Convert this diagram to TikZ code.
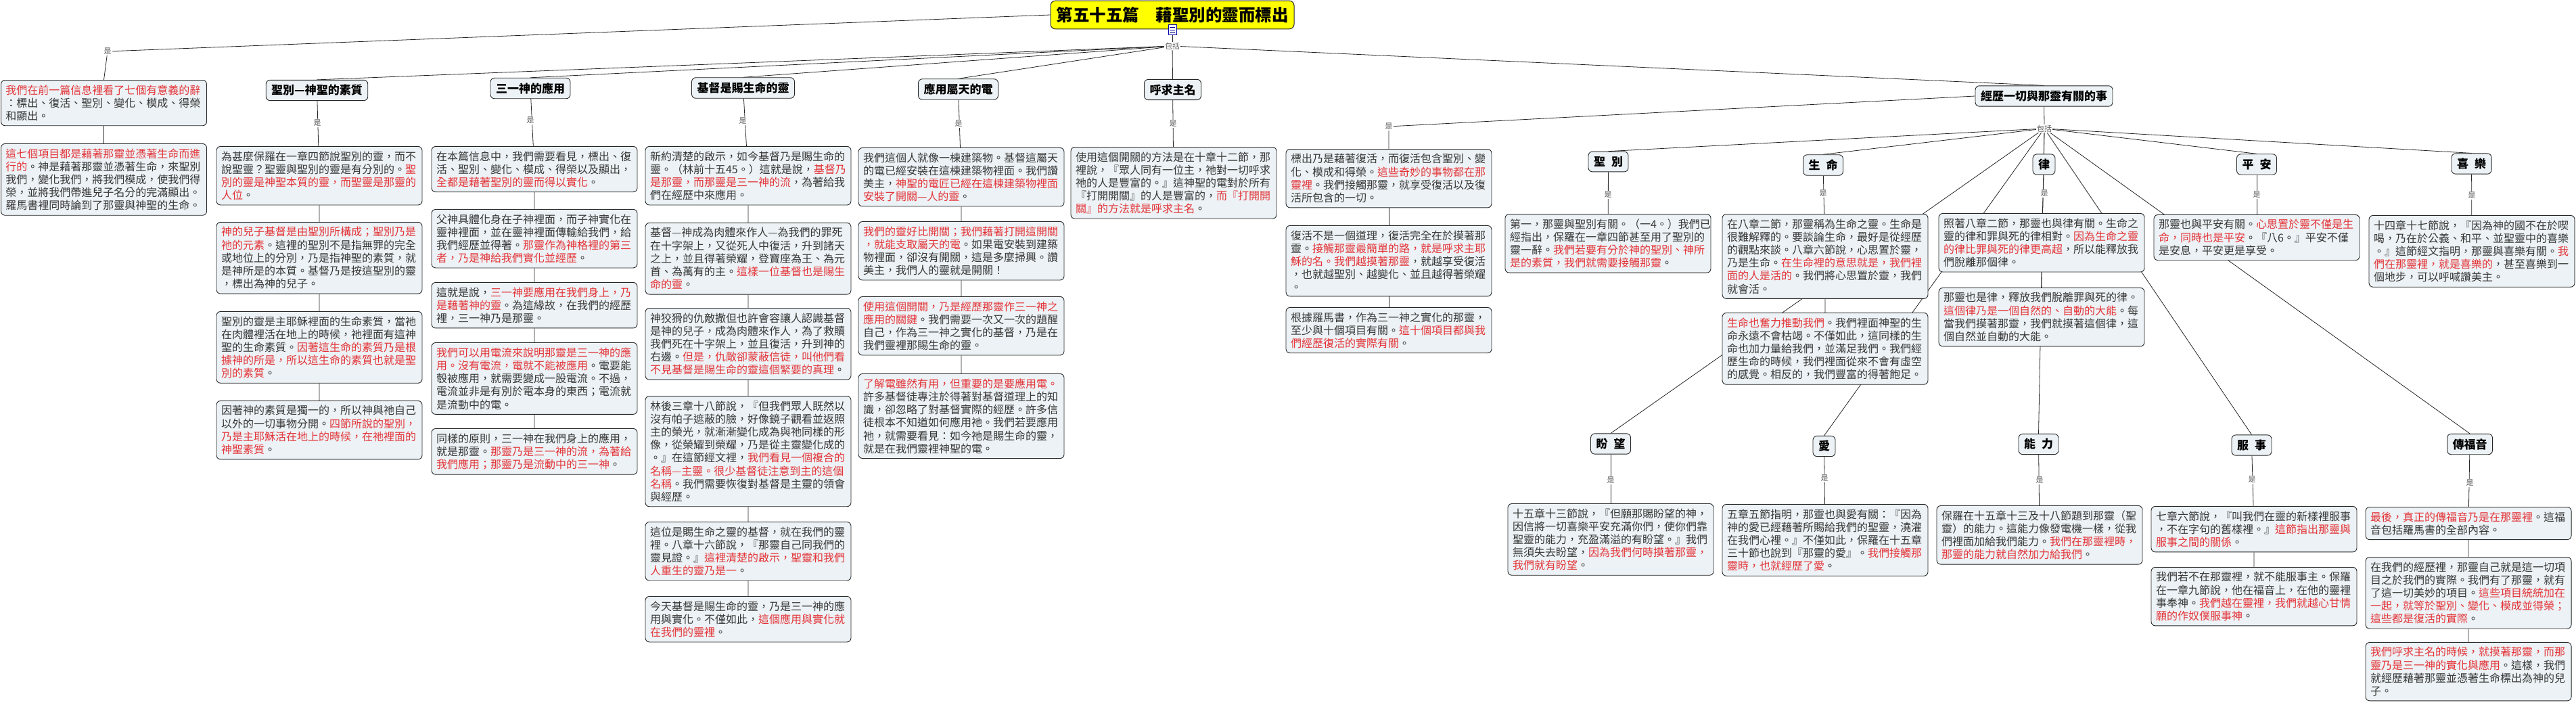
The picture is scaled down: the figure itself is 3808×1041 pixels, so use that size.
\documentclass[tikz,border=0pt]{standalone}
\usepackage{fontspec}
\setmainfont{Noto Sans CJK TC}
\usetikzlibrary{backgrounds}
\definecolor{boxfill}{RGB}{236,242,245}
\definecolor{tgray}{RGB}{55,55,55}
\definecolor{tred}{RGB}{228,52,56}
\definecolor{ttlfill}{RGB}{255,255,0}
\newcommand\rd[1]{\textcolor{tred}{#1}}
\begin{document}
\begin{tikzpicture}[x=1pt,y=-1pt,
  txt/.style={draw=black!85, line width=0.9pt, rounded corners=6pt, fill=boxfill,
    text width=290pt, inner xsep=7pt, inner ysep=7pt, align=left, anchor=north,
    font=\fontsize{16}{19.2}\selectfont, text=tgray},
  hd/.style={draw=black!85, line width=0.9pt, rounded corners=6pt, fill=boxfill,
    inner xsep=8pt, inner ysep=7pt, font=\fontsize{17}{20}\selectfont\bfseries, text=black},
  ttl/.style={draw=black!85, line width=1pt, rounded corners=7pt, fill=ttlfill,
    inner xsep=8.5pt, inner ysep=9pt, font=\fontsize{24.5}{28}\selectfont\bfseries, text=black},
  lbl/.style={fill=white, inner sep=1pt, font=\fontsize{11}{12}\selectfont, text=black!65},
  con/.style={line width=0.8pt, draw=black!85}]
\useasboundingbox (0,0) rectangle (3808,1041);

% ---------- title ----------
\node[ttl] (title) at (1733,22) {第五十五篇　藉聖別的靈而標出};
\node[draw=blue!65!black, fill=white, line width=0.8pt, minimum width=12pt, minimum height=15pt, inner sep=0pt] (icon) at (1733,44) {};
\draw[blue!55!black, line width=0.6pt] (1729,40) -- (1737,40) (1729,44) -- (1737,44) (1729,48) -- (1737,48);
\node[lbl] (incT) at (1733,68) {包括};

% ---------- headers ----------
\node[hd] (hB) at (468.5,133.5) {聖別—神聖的素質};
\node[hd] (hC) at (784,130.5) {三一神的應用};
\node[hd] (hD) at (1098.5,130) {基督是賜生命的靈};
\node[hd] (hE) at (1416.5,132) {應用屬天的電};
\node[hd] (hF) at (1733.5,132.5) {呼求主名};
\node[hd] (hX) at (3021.5,142) {經歷一切與那靈有關的事};
\node[lbl] (incX) at (3022,190) {包括};
\node[hd] (hS) at (2377.5,239) {聖\hspace{9pt}別};
\node[hd] (hL) at (2695,244) {生\hspace{9pt}命};
\node[hd] (hW) at (3021.5,243) {律};
\node[hd] (hP) at (3336,243) {平\hspace{9pt}安};
\node[hd] (hJ) at (3653.5,242) {喜\hspace{9pt}樂};
\node[hd] (hH) at (2381,656) {盼\hspace{9pt}望};
\node[hd] (hA) at (2696.5,659.5) {愛};
\node[hd] (hN) at (3013.5,656.5) {能\hspace{9pt}力};
\node[hd] (hV) at (3328.5,658) {服\hspace{9pt}事};
\node[hd] (hQ) at (3651,656.5) {傳福音};

% ---------- column A ----------
\node[txt] (A1) at (153.5,118) {\rd{我們在前一篇信息裡看了七個有意義的辭}\\：標出、復活、聖別、變化、模成、得榮\\和顯出。};
\node[txt] (A2) at (153.5,212) {\rd{這七個項目都是藉著那靈並憑著生命而進}\\\rd{行的}。神是藉著那靈並憑著生命，來聖別\\我們，變化我們，將我們模成，使我們得\\榮，並將我們帶進兒子名分的完滿顯出。\\羅馬書裡同時論到了那靈與神聖的生命。};

% ---------- column B ----------
\node[txt] (B1) at (472,216) {為甚麼保羅在一章四節說聖別的靈，而不\\說聖靈？聖靈與聖別的靈是有分別的。\rd{聖}\\\rd{別的靈是神聖本質的靈，而聖靈是那靈的}\\\rd{人位}。};
\node[txt] (B2) at (472,328) {\rd{神的兒子基督是由聖別所構成；聖別乃是}\\\rd{祂的元素}。這裡的聖別不是指無罪的完全\\或地位上的分別，乃是指神聖的素質，就\\是神所是的本質。基督乃是按這聖別的靈\\，標出為神的兒子。};
\node[txt] (B3) at (472,460) {聖別的靈是主耶穌裡面的生命素質，當祂\\在肉體裡活在地上的時候，祂裡面有這神\\聖的生命素質。\rd{因著這生命的素質乃是根}\\\rd{據神的所是，所以這生命的素質也就是聖}\\\rd{別的素質}。};
\node[txt] (B4) at (472,592) {因著神的素質是獨一的，所以神與祂自己\\以外的一切事物分開。\rd{四節所說的聖別，}\\\rd{乃是主耶穌活在地上的時候，在祂裡面的}\\\rd{神聖素質}。};

% ---------- column C ----------
\node[txt] (C1) at (790,216) {在本篇信息中，我們需要看見，標出、復\\活、聖別、變化、模成、得榮以及顯出，\\\rd{全都是藉著聖別的靈而得以實化}。};
\node[txt] (C2) at (790,309) {父神具體化身在子神裡面，而子神實化在\\靈神裡面，並在靈神裡面傳輸給我們，給\\我們經歷並得著。\rd{那靈作為神格裡的第三}\\\rd{者，乃是神給我們實化並經歷}。};
\node[txt] (C3) at (790,417) {這就是說，\rd{三一神要應用在我們身上，乃}\\\rd{是藉著神的靈}。為這緣故，在我們的經歷\\裡，三一神乃是那靈。};
\node[txt] (C4) at (790,506) {\rd{我們可以用電流來說明那靈是三一神的應}\\\rd{用。沒有電流，電就不能被應用}。電要能\\彀被應用，就需要變成一股電流。不過，\\電流並非是有別於電本身的東西；電流就\\是流動中的電。};
\node[txt] (C5) at (790,633) {同樣的原則，三一神在我們身上的應用，\\就是那靈。\rd{那靈乃是三一神的流，為著給}\\\rd{我們應用；那靈乃是流動中的三一神}。};

% ---------- column D ----------
\node[txt] (D1) at (1106,216) {新約清楚的啟示，如今基督乃是賜生命的\\靈。（林前十五45。）這就是說，\rd{基督乃}\\\rd{是那靈，而那靈是三一神的流}，為著給我\\們在經歷中來應用。};
\node[txt] (D2) at (1106,329) {基督—神成為肉體來作人—為我們的罪死\\在十字架上，又從死人中復活，升到諸天\\之上，並且得著榮耀，登寶座為王、為元\\首、為萬有的主。\rd{這樣一位基督也是賜生}\\\rd{命的靈}。};
\node[txt] (D3) at (1106,455) {神狡猾的仇敵撒但也許會容讓人認識基督\\是神的兒子，成為肉體來作人，為了救贖\\我們死在十字架上，並且復活，升到神的\\右邊。\rd{但是，仇敵卻蒙蔽信徒，叫他們看}\\\rd{不見基督是賜生命的靈這個緊要的真理}。};
\node[txt] (D4) at (1106,585) {林後三章十八節說，『但我們眾人既然以\\沒有帕子遮蔽的臉，好像鏡子觀看並返照\\主的榮光，就漸漸變化成為與祂同樣的形\\像，從榮耀到榮耀，乃是從主靈變化成的\\。』在這節經文裡，\rd{我們看見一個複合的}\\\rd{名稱—主靈。很少基督徒注意到主的這個}\\\rd{名稱}。我們需要恢復對基督是主靈的領會\\與經歷。};
\node[txt] (D5) at (1106,771) {這位是賜生命之靈的基督，就在我們的靈\\裡。八章十六節說，『那靈自己同我們的\\靈見證。』\rd{這裡清楚的啟示，聖靈和我們}\\\rd{人重生的靈乃是一}。};
\node[txt] (D6) at (1106,881) {今天基督是賜生命的靈，乃是三一神的應\\用與實化。不僅如此，\rd{這個應用與實化就}\\\rd{在我們的靈裡}。};

% ---------- column E ----------
\node[txt] (E1) at (1421,218) {我們這個人就像一棟建築物。基督這屬天\\的電已經安裝在這棟建築物裡面。我們讚\\美主，\rd{神聖的電匠已經在這棟建築物裡面}\\\rd{安裝了開關—人的靈}。};
\node[txt] (E2) at (1421,327) {\rd{我們的靈好比開關；我們藉著打開這開關}\\\rd{，就能支取屬天的電}。如果電安裝到建築\\物裡面，卻沒有開關，這是多麼掃興。讚\\美主，我們人的靈就是開關！};
\node[txt] (E3) at (1421,438) {\rd{使用這個開關，乃是經歷那靈作三一神之}\\\rd{應用的關鍵}。我們需要一次又一次的題醒\\自己，作為三一神之實化的基督，乃是在\\我們靈裡那賜生命的靈。};
\node[txt] (E4) at (1421,552) {\rd{了解電雖然有用，但重要的是要應用電。}\\許多基督徒專注於得著對基督道理上的知\\識，卻忽略了對基督實際的經歷。許多信\\徒根本不知道如何應用祂。我們若要應用\\祂，就需要看見：如今祂是賜生命的靈，\\就是在我們靈裡神聖的電。};

% ---------- column F ----------
\node[txt] (F1) at (1735,217) {使用這個開關的方法是在十章十二節，那\\裡說，『眾人同有一位主，祂對一切呼求\\祂的人是豐富的。』這神聖的電對於所有\\『打開開關』的人是豐富的，\rd{而『打開開}\\\rd{關』的方法就是呼求主名}。};

% ---------- column G ----------
\node[txt] (G1) at (2053,220) {標出乃是藉著復活，而復活包含聖別、變\\化、模成和得榮。\rd{這些奇妙的事物都在那}\\\rd{靈裡}。我們接觸那靈，就享受復活以及復\\活所包含的一切。};
\node[txt] (G2) at (2053,333) {復活不是一個道理，復活完全在於摸著那\\靈。\rd{接觸那靈最簡單的路，就是呼求主耶}\\\rd{穌的名。我們越摸著那靈}，就越享受復活\\，也就越聖別、越變化、並且越得著榮耀\\。};
\node[txt] (G3) at (2053,454) {根據羅馬書，作為三一神之實化的那靈，\\至少與十個項目有關。\rd{這十個項目都與我}\\\rd{們經歷復活的實際有關}。};

% ---------- ten items ----------
\node[txt] (S1) at (2377,316) {第一，那靈與聖別有關。（一4。）我們已\\經指出，保羅在一章四節甚至用了聖別的\\靈一辭。\rd{我們若要有分於神的聖別、神所}\\\rd{是的素質，我們就需要接觸那靈}。};
\node[txt] (L1) at (2698,316) {在八章二節，那靈稱為生命之靈。生命是\\很難解釋的。要談論生命，最好是從經歷\\的觀點來談。八章六節說，心思置於靈，\\乃是生命。\rd{在生命裡的意思就是，我們裡}\\\rd{面的人是活的}。我們將心思置於靈，我們\\就會活。};
\node[txt] (L2) at (2698,462) {\rd{生命也奮力推動我們}。我們裡面神聖的生\\命永遠不會枯竭。不僅如此，這同樣的生\\命也加力量給我們，並滿足我們。我們經\\歷生命的時候，我們裡面從來不會有虛空\\的感覺。相反的，我們豐富的得著飽足。};
\node[txt] (W1) at (3018,315) {照著八章二節，那靈也與律有關。生命之\\靈的律和罪與死的律相對。\rd{因為生命之靈}\\\rd{的律比罪與死的律更高超}，所以能釋放我\\們脫離那個律。};
\node[txt] (W2) at (3018,425) {那靈也是律，釋放我們脫離罪與死的律。\\\rd{這個律乃是一個自然的、自動的大能}。每\\當我們摸著那靈，我們就摸著這個律，這\\個自然並自動的大能。};
\node[txt] (P1) at (3336,317) {那靈也與平安有關。\rd{心思置於靈不僅是生}\\\rd{命，同時也是平安}。『八6。』平安不僅\\是安息，平安更是享受。};
\node[txt] (J1) at (3654,318) {十四章十七節說，『因為神的國不在於喫\\喝，乃在於公義、和平、並聖靈中的喜樂\\。』這節經文指明，那靈與喜樂有關。\rd{我}\\\rd{們在那靈裡，就是喜樂的}，甚至喜樂到一\\個地步，可以呼喊讚美主。};
\node[txt] (H1) at (2381,744) {十五章十三節說，『但願那賜盼望的神，\\因信將一切喜樂平安充滿你們，使你們靠\\聖靈的能力，充盈滿溢的有盼望。』我們\\無須失去盼望，\rd{因為我們何時摸著那靈，}\\\rd{我們就有盼望}。};
\node[txt] (Ai1) at (2698,745) {五章五節指明，那靈也與愛有關：『因為\\神的愛已經藉著所賜給我們的聖靈，澆灌\\在我們心裡。』不僅如此，保羅在十五章\\三十節也說到『那靈的愛』。\rd{我們接觸那}\\\rd{靈時，也就經歷了愛}。};
\node[txt] (N1) at (3015,747) {保羅在十五章十三及十八節題到那靈（聖\\靈）的能力。這能力像發電機一樣，從我\\們裡面加給我們能力。\rd{我們在那靈裡時，}\\\rd{那靈的能力就自然加力給我們}。};
\node[txt] (V1) at (3332,748) {七章六節說，『叫我們在靈的新樣裡服事\\，不在字句的舊樣裡。』\rd{這節指出那靈與}\\\rd{服事之間的關係}。};
\node[txt] (V2) at (3332,838) {我們若不在那靈裡，就不能服事主。保羅\\在一章九節說，他在福音上，在他的靈裡\\事奉神。\rd{我們越在靈裡，我們就越心甘情}\\\rd{願的作奴僕服事神}。};
\node[txt] (Q1) at (3649,749) {\rd{最後，真正的傳福音乃是在那靈裡}。這福\\音包括羅馬書的全部內容。};
\node[txt] (Q2) at (3649,823) {在我們的經歷裡，那靈自己就是這一切項\\目之於我們的實際。我們有了那靈，就有\\了這一切美妙的項目。\rd{這些項目統統加在}\\\rd{一起，就等於聖別、變化、模成並得榮；}\\\rd{這些都是復活的實際}。};
\node[txt] (Q3) at (3649,949) {\rd{我們呼求主名的時候，就摸著那靈，而那}\\\rd{靈乃是三一神的實化與應用}。這樣，我們\\就經歷藉著那靈並憑著生命標出為神的兒\\子。};

% ---------- "是" labels ----------
\node[lbl] (isA) at (159,76) {是};
\node[lbl] (isB) at (469,182) {是};
\node[lbl] (isC) at (784,178) {是};
\node[lbl] (isD) at (1098,179) {是};
\node[lbl] (isE) at (1417,183) {是};
\node[lbl] (isF) at (1734,183) {是};
\node[lbl] (isG) at (2053,187) {是};
\node[lbl] (isS) at (2377,288) {是};
\node[lbl] (isL) at (2695,286) {是};
\node[lbl] (isW) at (3022,286) {是};
\node[lbl] (isP) at (3336,288) {是};
\node[lbl] (isJ) at (3654,289) {是};
\node[lbl] (isH) at (2381,710) {是};
\node[lbl] (isAi) at (2697,707) {是};
\node[lbl] (isN) at (3015,710) {是};
\node[lbl] (isV) at (3329,709) {是};
\node[lbl] (isQ) at (3651,714) {是};

% ---------- connectors ----------
\begin{scope}[on background layer]
\fill[white] (0,0) rectangle (3808,1041);
\draw[con] (title) -- (incT.center);
\draw[con] (incT.center) -- (hB.north);
\draw[con] (incT.center) -- (hC.north);
\draw[con] (incT.center) -- (hD.north);
\draw[con] (incT.center) -- (hE.north);
\draw[con] (incT.center) -- (hF.north);
\draw[con] (incT.center) -- (hX.north);
\draw[con] (title.west) -- (isA.center) -- (A1.north);
\draw[con] (A1) -- (A2);
\draw[con] (hB) -- (B1) -- (B2) -- (B3) -- (B4);
\draw[con] (hC) -- (C1) -- (C2) -- (C3) -- (C4) -- (C5);
\draw[con] (hD) -- (D1) -- (D2) -- (D3) -- (D4) -- (D5) -- (D6);
\draw[con] (hE) -- (E1) -- (E2) -- (E3) -- (E4);
\draw[con] (hF) -- (F1);
\draw[con] (hX.west) -- (isG.center) -- (G1.north);
\draw[con] (G1) -- (G2) -- (G3);
\draw[con] (hX) -- (incX.center);
\foreach \h in {hS,hL,hW,hP,hJ,hH,hA,hN,hV,hQ} {\draw[con] (incX.center) -- (\h.north);}
\draw[con] (hS) -- (S1);
\draw[con] (hL) -- (L1) -- (L2);
\draw[con] (hW) -- (W1) -- (W2);
\draw[con] (hP) -- (P1);
\draw[con] (hJ) -- (J1);
\draw[con] (hH) -- (H1);
\draw[con] (hA) -- (Ai1);
\draw[con] (hN) -- (N1);
\draw[con] (hV) -- (V1) -- (V2);
\draw[con] (hQ) -- (Q1) -- (Q2) -- (Q3);
\end{scope}
\end{tikzpicture}
\end{document}
